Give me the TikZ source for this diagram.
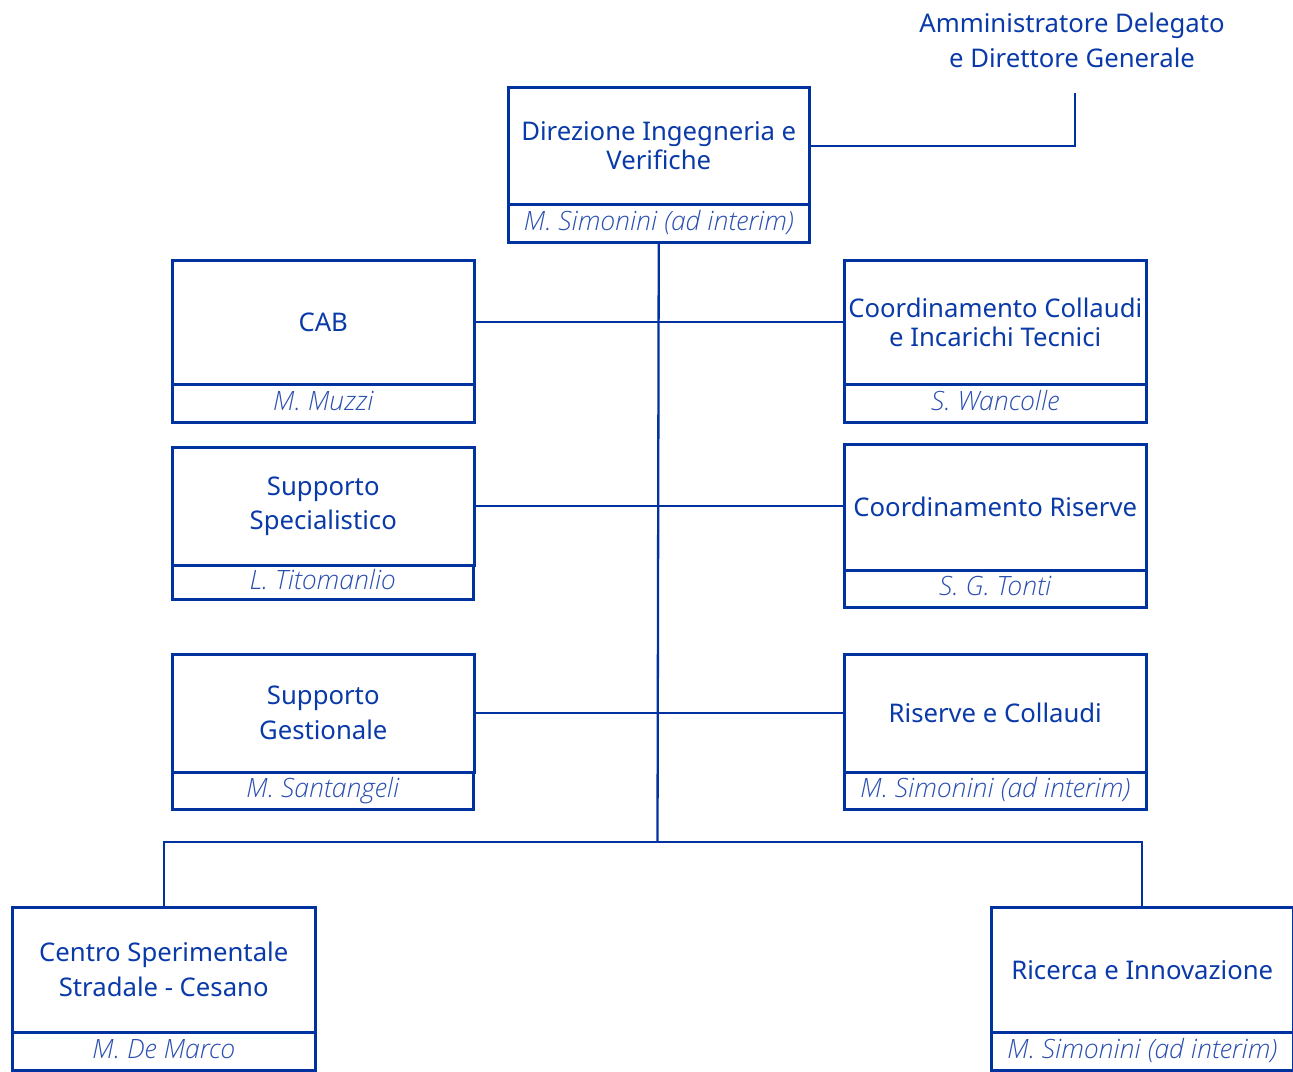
\documentclass[tikz,border=0pt]{standalone}
\usepackage{fontspec}
\setmainfont{Noto Sans}
\newfontfamily\lightfont{Open Sans Light}
\definecolor{dblue}{HTML}{0033A0}
\definecolor{tblue}{HTML}{0A3AA8}
\definecolor{nblue}{HTML}{2A4FB0}
\begin{document}
\begin{tikzpicture}[x=1pt,y=-1pt,
  titlebox/.style={draw=dblue,line width=2.5pt,anchor=north west,inner sep=0pt,align=center,text=tblue,font=\fontsize{25.7}{29}\selectfont},
  namebox/.style={draw=dblue,line width=2.5pt,anchor=north west,inner sep=0pt,align=center,text=nblue,text height=20pt,text depth=6pt,font=\fontsize{26.6}{28}\selectfont\lightfont\itshape},
  conn/.style={draw=dblue,line width=2.3pt}]
\useasboundingbox (0,0) rectangle (1293,1071);
% top
\node[titlebox,minimum width=301pt,minimum height=117pt] (dir) at (507,86) {Direzione Ingegneria e\\Verifiche};
\node[namebox,minimum width=301pt,minimum height=38pt] (dirn) at (507,203) {M. Simonini (ad interim)};
\node[text=tblue,align=center,font=\fontsize{25.7}{35}\selectfont] (ad) at (1072,40) {Amministratore Delegato\\e Direttore Generale};
\coordinate (adc) at (1075,93);
% left column
\node[titlebox,minimum width=302pt,minimum height=124pt] (cab) at (171,259) {CAB};
\node[namebox,minimum width=302pt,minimum height=38pt] (cabn) at (171,383) {M. Muzzi};
\node[titlebox,minimum width=302pt,minimum height=118pt,font=\fontsize{25.7}{34}\selectfont] (ss) at (171,446) {Supporto\\Specialistico};
\node[namebox,minimum width=301pt,minimum height=34pt] (ssn) at (171,564) {L. Titomanlio};
\node[titlebox,minimum width=302pt,minimum height=118pt,font=\fontsize{25.7}{35}\selectfont] (sg) at (171,653) {Supporto\\Gestionale};
\node[namebox,minimum width=301pt,minimum height=37pt] (sgn) at (171,771) {M. Santangeli};
% right column
\node[titlebox,minimum width=302pt,minimum height=124pt] (cc) at (843,259) {Coordinamento Collaudi\\e Incarichi Tecnici};
\node[namebox,minimum width=302pt,minimum height=38pt] (ccn) at (843,383) {S. Wancolle};
\node[titlebox,minimum width=302pt,minimum height=126pt] (cr) at (843,443) {Coordinamento Riserve};
\node[namebox,minimum width=302pt,minimum height=37pt] (crn) at (843,569) {S. G. Tonti};
\node[titlebox,minimum width=302pt,minimum height=118pt] (rc) at (843,653) {Riserve e Collaudi};
\node[namebox,minimum width=302pt,minimum height=37pt] (rcn) at (843,771) {M. Simonini (ad interim)};
% bottom
\node[titlebox,minimum width=303pt,minimum height=125pt,font=\fontsize{25.7}{35}\selectfont] (cs) at (11,906) {Centro Sperimentale\\Stradale - Cesano};
\node[namebox,minimum width=303pt,minimum height=38pt] (csn) at (11,1031) {M. De Marco};
\node[titlebox,minimum width=302pt,minimum height=125pt] (ri) at (990,906) {Ricerca e Innovazione};
\node[namebox,minimum width=302pt,minimum height=38pt] (rin) at (990,1031) {M. Simonini (ad interim)};
% connectors
\coordinate (bar) at (657.5,842);
\draw[conn] (dir.east) -| (adc);
\draw[conn] (dirn.south) -- (bar);
\draw[conn] (cab.east) -- (cc.west);
\draw[conn] (ss.east) -- (ss.east -| cr.west);
\draw[conn] (sg.east) -- (rc.west);
\draw[conn] (cs.north) |- (bar) -| (ri.north);
\end{tikzpicture}
\end{document}
